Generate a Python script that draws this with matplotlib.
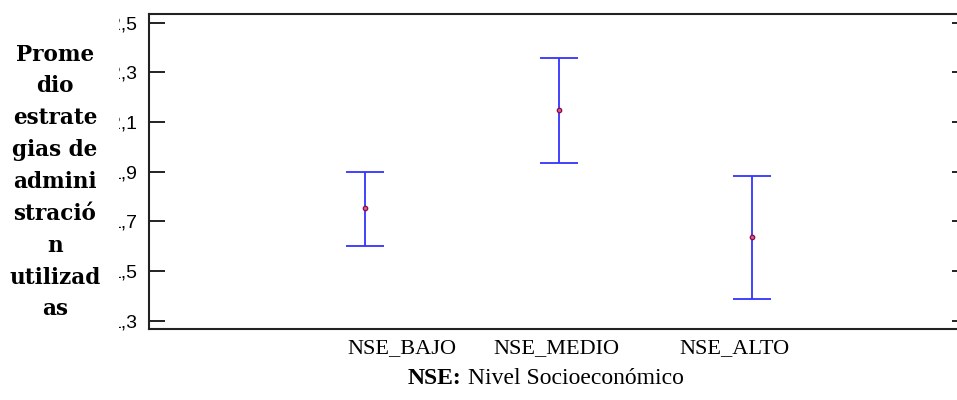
import matplotlib
matplotlib.use("Agg")
import matplotlib.pyplot as plt
from matplotlib.patches import Rectangle

# ---------------------------
# DATA
# ---------------------------
categories = ["NSE_BAJO", "NSE_MEDIO", "NSE_ALTO"]
means = [1.753, 2.147, 1.636]
upper = [1.900, 2.357, 1.884]
lower = [1.601, 1.935, 1.388]

y_ticks = [1.3, 1.5, 1.7, 1.9, 2.1, 2.3, 2.5]
y_tick_labels = ["1,3", "1,5", "1,7", "1,9", "2,1", "2,3", "2,5"]

# bars sit at 1, 2, 3; the labels in the source are shifted a bit
x_pos = [1, 2, 3]
label_pos = [1.19, 1.99, 2.91]

ylabel_text = "Prome\ndio\nestrate\ngias de\nadmini\nstració\nn\nutilizad\nas"

W, H = 957, 400
fig = plt.figure(figsize=(W / 100, H / 100), dpi=100)
ax = fig.add_axes([149 / W, 1 - 329 / H, (968 - 149) / W, (329 - 14) / H])

err_lo = [m - lo for m, lo in zip(means, lower)]
err_hi = [hi - m for m, hi in zip(means, upper)]
ax.errorbar(x_pos, means, yerr=[err_lo, err_hi], fmt="none",
            ecolor="#3333ff", elinewidth=1.3, capsize=14, capthick=1.3)
ax.plot(x_pos, means, "o", ms=3.2, mfc="#d06080", mec="#900848", mew=0.9)

ax.set_xlim(-0.116, 4.116)
ax.set_ylim(1.266, 2.535)
ax.set_yticks(y_ticks)
ax.set_yticklabels(y_tick_labels, fontfamily="Liberation Sans", fontsize=14)
ax.set_xticks(label_pos)
ax.set_xticklabels(categories, fontfamily="Liberation Serif", fontsize=16)
ax.tick_params(axis="x", length=0, pad=7)
ax.tick_params(axis="y", direction="in", length=11.5, width=1.4,
               right=True, pad=8.6, color="#222222")

for side in ["top", "bottom", "left"]:
    ax.spines[side].set_linewidth(1.5)
    ax.spines[side].set_color("#222222")
ax.spines["right"].set_visible(False)

# white box for the y label; it hides the first digit of the tick labels
fig.patches.append(Rectangle((0, 0), 119 / W, 1, transform=fig.transFigure,
                             facecolor="white", edgecolor="none", zorder=5))
fig.text(55 / W, 1 - 182 / H, ylabel_text, ha="center", va="center",
         fontfamily="DejaVu Serif", fontweight="bold", fontsize=15.5,
         linespacing=1.58, zorder=6)

# x title: bold "NSE:" followed by normal text
fig.text(461 / W, 1 - 379 / H, "NSE:", ha="right", va="center",
         fontfamily="Liberation Serif", fontweight="bold", fontsize=17)
fig.text(468 / W, 1 - 379 / H, "Nivel Socioeconómico", ha="left", va="center",
         fontfamily="Liberation Serif", fontsize=17)

fig.savefig("out.png", dpi=100)
